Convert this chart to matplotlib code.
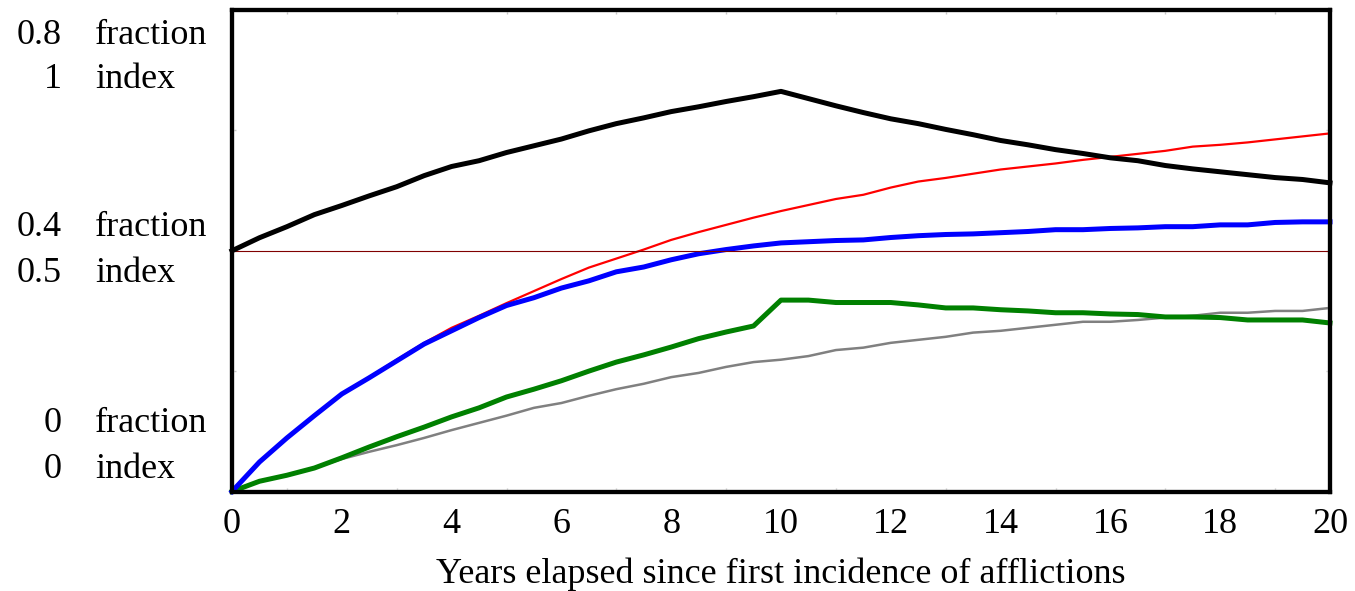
import numpy as np
import matplotlib
matplotlib.use("Agg")
import matplotlib.pyplot as plt
from matplotlib.ticker import MultipleLocator

plt.rcParams['font.family'] = ['Liberation Serif', 'DejaVu Serif']
plt.rcParams['font.size'] = 26

# time axis (years, half-year steps)
years = np.arange(0, 20.5, 0.5)

# index-scaled series (0..1)
black_idx = [0.500, 0.527, 0.550, 0.575, 0.594, 0.614, 0.633, 0.656, 0.675, 0.687,
             0.704, 0.718, 0.732, 0.749, 0.764, 0.776, 0.789, 0.799, 0.810, 0.820,
             0.831, 0.816, 0.801, 0.787, 0.774, 0.764, 0.752, 0.741, 0.729, 0.720,
             0.710, 0.702, 0.693, 0.687, 0.677, 0.670, 0.664, 0.658, 0.652, 0.648,
             0.641]
brown_idx = [0.5] * len(years)

# fraction-scaled series (0..0.8)
red_frac = [0.000, 0.049, 0.089, 0.126, 0.162, 0.190, 0.219, 0.247, 0.272, 0.292,
            0.313, 0.333, 0.353, 0.372, 0.387, 0.402, 0.418, 0.431, 0.443, 0.455,
            0.466, 0.476, 0.486, 0.493, 0.505, 0.515, 0.521, 0.528, 0.535, 0.540,
            0.545, 0.551, 0.556, 0.561, 0.566, 0.573, 0.576, 0.580, 0.585, 0.590,
            0.595]
blue_frac = [0.000, 0.049, 0.089, 0.126, 0.162, 0.189, 0.217, 0.245, 0.267, 0.289,
             0.309, 0.322, 0.338, 0.350, 0.365, 0.373, 0.385, 0.395, 0.402, 0.408,
             0.413, 0.415, 0.417, 0.418, 0.422, 0.425, 0.427, 0.428, 0.430, 0.432,
             0.435, 0.435, 0.437, 0.438, 0.440, 0.440, 0.443, 0.443, 0.447, 0.448,
             0.448]
green_frac = [0.000, 0.017, 0.027, 0.039, 0.056, 0.074, 0.091, 0.107, 0.124, 0.139,
              0.157, 0.170, 0.184, 0.200, 0.215, 0.227, 0.240, 0.254, 0.265, 0.275,
              0.318, 0.318, 0.314, 0.314, 0.314, 0.310, 0.305, 0.305, 0.302, 0.300,
              0.297, 0.297, 0.295, 0.294, 0.290, 0.290, 0.289, 0.285, 0.285, 0.285,
              0.280]
gray_frac = [0.000, 0.017, 0.027, 0.039, 0.054, 0.066, 0.077, 0.089, 0.102, 0.114,
             0.126, 0.139, 0.147, 0.159, 0.170, 0.179, 0.190, 0.197, 0.207, 0.215,
             0.219, 0.225, 0.235, 0.239, 0.247, 0.252, 0.257, 0.264, 0.267, 0.272,
             0.277, 0.282, 0.282, 0.285, 0.289, 0.292, 0.297, 0.297, 0.300, 0.300,
             0.305]

# stacked left-hand scale labels (value, unit)
scale_values = ["0.8", "1", "0.4", "0.5", "0", "0"]
scale_units = ["fraction", "index", "fraction", "index", "fraction", "index"]
scale_rows_px = [35, 80, 228, 274, 424, 470]

W, H = 1355, 591
fig = plt.figure(figsize=(W / 100, H / 100), dpi=100)
ax = fig.add_axes([232 / W, 1 - 491.5 / H, (1330 - 232) / W, (491.5 - 10) / H])
ax2 = ax.twinx()

ax.set_xlim(0, 20)
ax.set_ylim(0, 1)
ax2.set_ylim(0, 0.8)

ax.plot(years, brown_idx, color='#800000', lw=0.8, zorder=2)
ax2.plot(years, gray_frac, color='#808080', lw=1.8, zorder=3)
ax2.plot(years, green_frac, color='#008000', lw=3.6, zorder=4)
ax2.plot(years, red_frac, color='#ff0000', lw=1.6, zorder=5)
ax2.plot(years, blue_frac, color='#0000ff', lw=3.6, zorder=6)
ax.plot(years, black_idx, color='black', lw=3.6, zorder=7)
ax.set_zorder(ax2.get_zorder() + 1)
ax.patch.set_visible(False)
for l in ax.lines + ax2.lines:
    l.set_clip_on(False)

for a in (ax, ax2):
    for s in a.spines.values():
        s.set_linewidth(3)
        s.set_color('black')

ax.set_xticks(np.arange(0, 21, 2))
ax.tick_params(axis='x', which='major', length=0, pad=12, labelsize=26)
ax.set_yticks([])
ax2.set_yticks([])
ax.xaxis.set_minor_locator(MultipleLocator(1))
ax.yaxis.set_minor_locator(MultipleLocator(0.25))
ax.tick_params(which='minor', direction='in', length=3, width=1, color='#c8c8c8',
               top=True, right=True, left=True, bottom=True)
ax.set_xlabel("Years elapsed since first incidence of afflictions", fontsize=26, labelpad=12)

for v, u, ypx in zip(scale_values, scale_units, scale_rows_px):
    fig.text(62 / W, 1 - ypx / H, v, ha='right', va='center', fontsize=26)
    fig.text(95 / W, 1 - ypx / H, u, ha='left', va='center', fontsize=26)

fig.savefig("out.png", dpi=100)
